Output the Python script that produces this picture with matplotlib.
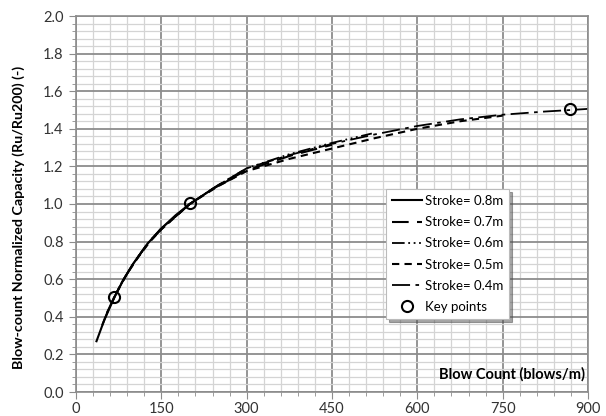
import matplotlib
matplotlib.use('Agg')
import matplotlib.pyplot as plt
from matplotlib.ticker import MultipleLocator

plt.rcParams['font.family'] = ['Lato', 'DejaVu Sans']

# curves (blow count, normalized capacity)
x_08 = [36, 50, 67, 82, 100, 126, 150, 175, 200, 240, 280]
y_08 = [0.27, 0.385, 0.50, 0.59, 0.68, 0.79, 0.87, 0.94, 1.0, 1.08, 1.145]

x_07 = [46, 60, 70, 85, 100, 126, 150, 200, 250, 300, 375, 450]
y_07 = [0.355, 0.46, 0.52, 0.605, 0.68, 0.79, 0.87, 1.0, 1.10, 1.18, 1.255, 1.315]

x_06 = [54, 67, 80, 100, 126, 150, 200, 250, 300, 375, 450, 520]
y_06 = [0.42, 0.505, 0.58, 0.68, 0.79, 0.87, 1.0, 1.10, 1.19, 1.265, 1.325, 1.375]

x_05 = [62, 75, 90, 110, 130, 150, 200, 250, 300, 375, 450, 525, 600, 675, 750]
y_05 = [0.47, 0.55, 0.63, 0.72, 0.80, 0.865, 1.0, 1.095, 1.175, 1.24, 1.295, 1.35, 1.40, 1.44, 1.47]

x_04 = [70, 85, 100, 125, 150, 200, 250, 300, 375, 450, 525, 600, 675, 750, 825, 870, 900]
y_04 = [0.52, 0.605, 0.68, 0.785, 0.865, 1.0, 1.10, 1.19, 1.26, 1.32, 1.37, 1.415, 1.45, 1.475, 1.492, 1.50, 1.506]

key_x = [67, 200, 868]
key_y = [0.505, 1.005, 1.503]

fig = plt.figure(figsize=(6.06, 4.16), dpi=100)
ax = fig.add_axes([76 / 606, 24 / 416, 512 / 606, 376 / 416])

ax.plot(x_08, y_08, color='black', lw=1.5, ls='-', label='Stroke= 0.8m')
ax.plot(x_07, y_07, color='black', lw=1.5, ls=(0, (8, 4)), label='Stroke= 0.7m')
ax.plot(x_06, y_06, color='black', lw=1.3, ls=(0, (7, 2, 1, 2, 1, 2, 1, 2)), label='Stroke= 0.6m')
ax.plot(x_05, y_05, color='black', lw=1.5, ls=(0, (3.5, 2.5)), label='Stroke= 0.5m')
ax.plot(x_04, y_04, color='black', lw=1.3, ls=(0, (10, 3, 2, 3)), label='Stroke= 0.4m')
ax.plot(key_x, key_y, 'o', mfc='none', mec='black', mew=1.5, ms=8, label='Key points')

ax.set_xlim(0, 900)
ax.set_ylim(0, 2.0)
ax.xaxis.set_major_locator(MultipleLocator(150))
ax.xaxis.set_minor_locator(MultipleLocator(30))
ax.yaxis.set_major_locator(MultipleLocator(0.2))
ax.yaxis.set_minor_locator(MultipleLocator(0.04))
ax.yaxis.set_major_formatter(matplotlib.ticker.FormatStrFormatter('%.1f'))
ax.grid(which='major', color='#8c8c8c', lw=1.3)
ax.grid(which='minor', color='#d4d4d4', lw=0.9)
ax.set_axisbelow(True)
for s in ax.spines.values():
    s.set_color('#8c8c8c')
    s.set_linewidth(1.2)
ax.tick_params(which='both', color='#8c8c8c', labelsize=10.5, labelcolor='#333333')
ax.tick_params(which='major', length=5)
ax.tick_params(which='minor', length=3)
ax.tick_params(axis='x', pad=2)
ax.tick_params(axis='y', pad=4)

ax.set_ylabel('Blow-count Normalized Capacity (Ru/Ru200) (-)', fontsize=10.3,
              fontweight='bold', labelpad=8)
ax.yaxis.set_label_coords(-0.1, 0.465)
fig.text(585 / 606, 1 - 374 / 416, 'Blow Count (blows/m)', fontsize=10.5,
         fontweight='bold', ha='right', va='center')

leg = ax.legend(loc='upper left', bbox_to_anchor=(0.6055, 0.540), borderaxespad=0,
                fontsize=9.5, frameon=True, fancybox=False, shadow=True,
                handlelength=2.3, labelspacing=0.7, borderpad=0.45, handletextpad=0.2)
leg.get_frame().set_edgecolor('#bbbbbb')
leg.get_frame().set_linewidth(0.8)

fig.savefig('out.png', dpi=100)
